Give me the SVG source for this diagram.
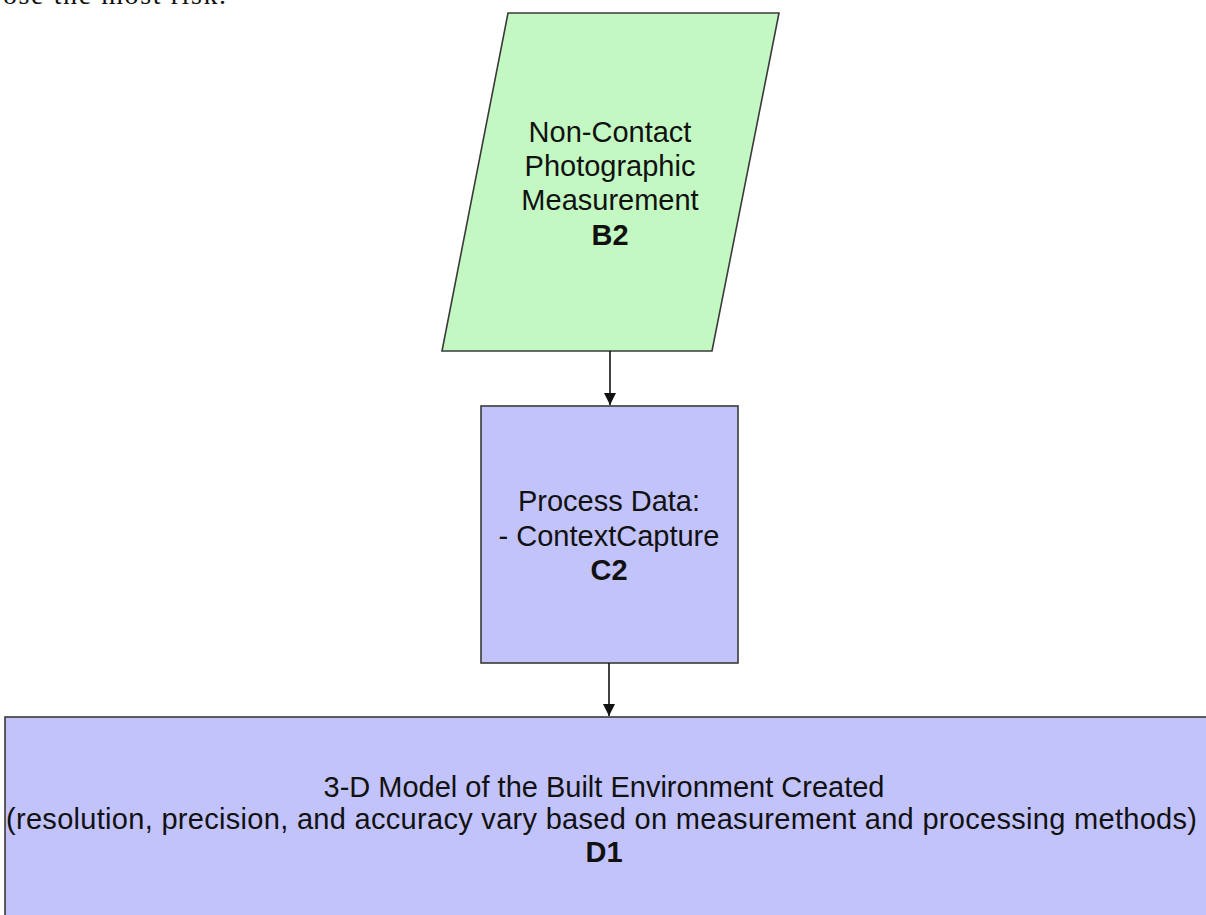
<svg xmlns="http://www.w3.org/2000/svg" width="1206" height="915" viewBox="0 0 1206 915">
<style>
.lbl{font-family:"Liberation Sans",Arial,Helvetica,sans-serif;font-size:29px;fill:#111;text-anchor:middle}
.b{font-weight:bold}
.conn{stroke:#111;stroke-width:1.6;fill:none}
.node{stroke:#3a3a3a;stroke-width:1.6}
</style>
<defs>
<marker id="ah" viewBox="0 0 10 10" refX="10" refY="5" markerWidth="12" markerHeight="12" markerUnits="userSpaceOnUse" orient="auto">
<path d="M0,0 L10,5 L0,10 z" fill="#111"/>
</marker>
</defs>
<rect width="1206" height="915" fill="#fff"/>
<text x="3" y="4" font-family="'Liberation Serif','Times New Roman',serif" font-size="28" fill="#111" textLength="223">ose the most risk.</text>
<g id="B2">
<polygon class="node" points="508,13 779,13 712,351 442,351" fill="#c3f8c3"/>
<text class="lbl" x="610" y="142">Non-Contact</text>
<text class="lbl" x="610" y="176">Photographic</text>
<text class="lbl" x="610" y="210">Measurement</text>
<text class="lbl b" x="610" y="245">B2</text>
</g>
<g id="C2">
<rect class="node" x="481" y="406" width="257" height="257" fill="#c3c3fb"/>
<text class="lbl" x="609" y="511">Process Data:</text>
<text class="lbl" x="609" y="546">- ContextCapture</text>
<text class="lbl b" x="609" y="580">C2</text>
</g>
<g id="D1">
<rect class="node" x="5" y="717" width="1210" height="220" fill="#c3c3fb"/>
<text class="lbl" x="604" y="797">3-D Model of the Built Environment Created</text>
<text class="lbl" x="601.5" y="829" textLength="1191" lengthAdjust="spacing">(resolution, precision, and accuracy vary based on measurement and processing methods)</text>
<text class="lbl b" x="604" y="862">D1</text>
</g>
<g id="connectors">
<line class="conn" x1="610" y1="351" x2="610" y2="405" marker-end="url(#ah)"/>
<line class="conn" x1="609" y1="663" x2="609" y2="716" marker-end="url(#ah)"/>
</g>
</svg>
